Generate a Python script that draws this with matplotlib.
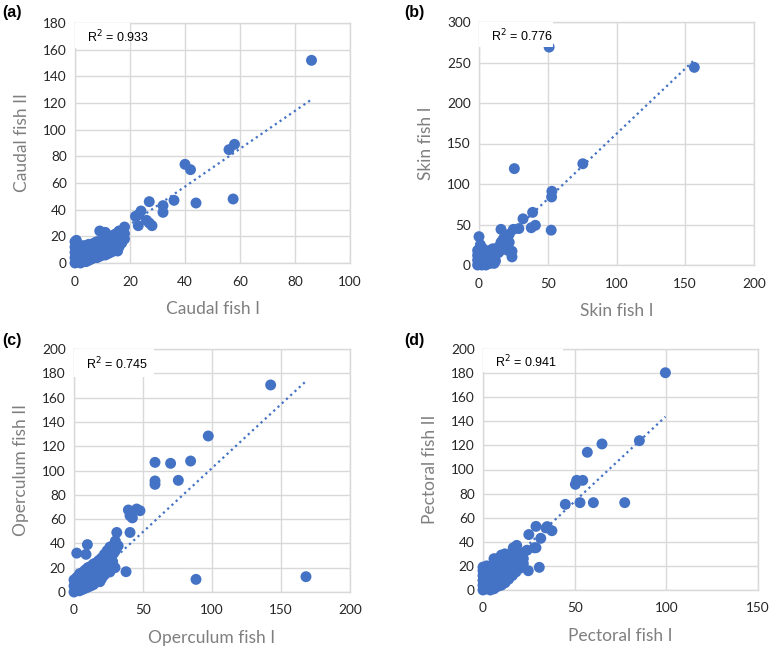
import matplotlib
matplotlib.use("Agg")
import matplotlib.pyplot as plt
from matplotlib.patches import Rectangle

# ---------------- data ----------------
caudal_I = [0, 0, 0, 0, 0, 0.5,
            1, 1, 1, 1,
            2, 2, 2, 2,
            3, 3, 3, 3,
            4, 4, 4, 4,
            5, 5, 5, 5,
            6, 6, 6, 6,
            7, 7, 7, 7,
            8, 8, 8, 8,
            9, 9, 9, 9, 9,
            10, 10, 10, 10,
            11, 11, 11, 11, 11,
            12, 12, 12, 12,
            13, 13, 13, 13,
            14, 14, 14, 14,
            15, 15, 15, 15, 15.5,
            16, 16, 16, 16,
            17, 17, 17,
            18, 18, 18,
            22, 23, 23, 24, 26, 27, 27, 28, 32, 32, 36, 40, 42, 44, 56, 58, 57.5, 86]
caudal_II = [0, 4, 8, 12, 16, 17,
             2, 6, 10, 14,
             0, 4, 8, 12,
             2, 6, 10, 13,
             1, 5, 9, 13,
             2, 6, 10, 14,
             3, 7, 11, 14,
             4, 8, 12, 15,
             4, 8, 12, 16,
             5, 9, 13, 16, 24,
             6, 10, 14, 17,
             6, 10, 14, 18, 23,
             7, 11, 15, 19,
             8, 12, 16, 20,
             9, 13, 17, 21,
             11, 14, 18, 22, 9,
             12, 16, 20, 24,
             15, 19, 23,
             18, 22, 27,
             35, 28, 36, 39, 32, 46, 30, 28, 43, 38, 47, 74, 70, 45, 85, 89, 48, 152]

skin_I = [-1, -1, -1, -1, 0, 1,
          2, 2, 2, 2, 3,
          5, 5, 5, 6,
          8, 8, 8, 8,
          10, 11, 11, 11, 11, 12,
          13, 14, 14, 15,
          16, 16, 16, 17, 18, 18, 19, 20, 20, 21, 22, 22, 24, 24, 25,
          29, 32, 38, 39, 41, 52.5, 52.8, 53, 75.5, 156.6, 25.7, 51]
skin_II = [0, 6, 12, 18, 35, 25,
           0, 5, 10, 15, 20,
           0, 5, 10, 14,
           2, 8, 14, 18,
           20, 2, 8, 15, 19, 5,
           18, 15, 22, 17,
           25, 28, 44, 30, 22, 33, 26, 36, 30, 18, 38, 28, 17, 10, 44,
           45, 57, 46, 65, 49, 43, 84, 91, 125, 244, 119, 269]

operc_I = [0, 0, 0,
           2, 2, 2, 2,
           4, 4, 4, 4,
           6, 6, 6, 6,
           8, 8, 8, 8, 8.7,
           10, 10, 10, 10, 9.7,
           12, 12, 12, 12,
           14, 14, 14, 14,
           16, 16, 16, 16,
           18, 18, 18, 18, 18.8,
           20, 20, 20, 20,
           22, 22, 22, 22,
           24, 24, 24, 24,
           26, 26, 26, 26,
           28, 28, 28,
           30, 30, 31, 32,
           26, 29.7, 37.7, 39.4, 40.6, 40.6, 42.3, 45.4, 47.8,
           58.7, 58.7, 58.7, 70, 75.6, 84.5, 88.4, 97.3, 142.5, 168.1]
operc_II = [0, 5, 10,
            2, 7, 12, 32,
            1, 6, 11, 15,
            2, 7, 12, 16,
            3, 8, 13, 18, 31,
            4, 9, 14, 20, 39,
            5, 10, 15, 21,
            6, 11, 16, 23,
            8, 13, 18, 24,
            10, 14, 20, 26, 8.5,
            11, 16, 22, 28,
            14, 19, 25, 31,
            17, 23, 29, 34,
            21, 27, 33, 37,
            25, 31, 38,
            34, 42, 49, 38,
            16.5, 20, 16.7, 67.5, 62.8, 49, 61, 68.3, 66.9,
            106.7, 91.4, 88.6, 105.9, 91.9, 107.8, 10.4, 128.4, 170.4, 12.6]

pect_I = [0, 0, 0, 0, 0, 0,
          2, 2, 2, 2, 2, 2,
          4, 4, 4, 4, 4, 4,
          6, 6, 6, 6, 6, 6, 6,
          8, 8, 8, 8, 8, 8, 8,
          10, 10, 10, 10, 10, 10, 10,
          12, 12, 12, 12, 12, 12, 12, 12.5,
          14, 14, 14, 14, 14, 14,
          16, 16, 16, 16, 16, 16.5,
          18, 18, 18, 18, 18.4,
          20, 20, 20, 20,
          22, 22, 22,
          24, 24.7, 25, 28, 28.9, 28.9, 30.7, 31.5, 34.4, 35, 37.6,
          44.9, 50.4, 51.1, 52.9, 54.4, 56.9, 60.2, 64.9, 77.3, 85.3, 99.5]
pect_II = [0, 4, 8, 12, 16, 19,
           1, 5, 9, 13, 17, 20,
           0, 4, 8, 12, 16, 20,
           1, 5, 9, 13, 17, 22, 26,
           3, 7, 11, 15, 19, 23, 26,
           4, 8, 12, 16, 20, 24, 29,
           6, 10, 14, 18, 22, 26, 30, 7.5,
           9, 13, 17, 21, 25, 28,
           12, 16, 20, 24, 28, 35,
           15, 19, 23, 27, 37,
           18, 22, 26, 30,
           22, 26, 31,
           33, 16, 46, 35, 35.1, 52.8, 18.8, 42.9, 51.5, 52.6, 49.2,
           71.1, 87.7, 91, 72.5, 91, 114.3, 72.5, 121.2, 72.5, 123.9, 180.3]

# trend line coefficients (slope, intercept)
fit_a = (1.42, 0.5)
fit_b = (1.61, 1.0)
fit_c = (1.05, -3.0)
fit_d = (1.42, 2.5)

r2_texts = ["R$^2$ = 0.933", "R$^2$ = 0.776", "R$^2$ = 0.745", "R$^2$ = 0.941"]
x_labels = ["Caudal fish I", "Skin fish I", "Operculum fish I", "Pectoral fish I"]
y_labels = ["Caudal fish II", "Skin fish I", "Operculum fish II", "Pectoral fish II"]
panel_letters = ["(a)", "(b)", "(c)", "(d)"]
x_ticks = [[0, 20, 40, 60, 80, 100], [0, 50, 100, 150, 200],
           [0, 50, 100, 150, 200], [0, 50, 100, 150]]
y_ticks = [[0, 20, 40, 60, 80, 100, 120, 140, 160, 180], [0, 50, 100, 150, 200, 250, 300],
           [0, 20, 40, 60, 80, 100, 120, 140, 160, 180, 200],
           [0, 20, 40, 60, 80, 100, 120, 140, 160, 180, 200]]

# ---------------- figure ----------------
W, H = 772, 650
fig = plt.figure(figsize=(W / 100, H / 100), dpi=100)

blue = "#4472C4"
grid_c = "#d9d9d9"
tick_font = "Lato"

# axes rectangles in pixels (left, top, right, bottom)
rects = [(75, 23, 350, 263), (479, 22, 754, 265), (74, 349, 350, 592), (483, 349, 758, 590)]
# text box extents in axes fraction (width, height)
boxes = [(0.20, 0.103), (0.27, 0.103), (0.29, 0.117), (0.29, 0.095)]
letter_pos = [(2, 12), (404, 12), (2, 340), (404, 340)]

datasets = [(caudal_I, caudal_II, fit_a), (skin_I, skin_II, fit_b),
            (operc_I, operc_II, fit_c), (pect_I, pect_II, fit_d)]

for i, (xs, ys, fit) in enumerate(datasets):
    l, t, r, b = rects[i]
    ax = fig.add_axes([l / W, 1 - b / H, (r - l) / W, (b - t) / H])
    ax.set_xlim(x_ticks[i][0], x_ticks[i][-1])
    ax.set_ylim(y_ticks[i][0], y_ticks[i][-1])
    ax.set_xticks(x_ticks[i])
    ax.set_yticks(y_ticks[i])
    ax.grid(True, color=grid_c, linewidth=1.0, zorder=0)
    ax.set_axisbelow(True)
    for s in ax.spines.values():
        s.set_color(grid_c)
        s.set_linewidth(1.0)
    ax.tick_params(axis="y", length=0, labelsize=9.8, colors="#262626", pad=6)
    ax.tick_params(axis="x", length=0, labelsize=9.8, colors="#262626", pad=9)
    for lab in ax.get_xticklabels() + ax.get_yticklabels():
        lab.set_fontfamily(tick_font)

    ax.scatter(xs, ys, s=62, color=blue, edgecolors="none", zorder=3, clip_on=False)
    xmin, xmax = min(xs), max(xs)
    ax.plot([xmin, xmax], [fit[0] * xmin + fit[1], fit[0] * xmax + fit[1]],
            linestyle=(0, (1, 1.6)), color=blue, linewidth=1.6, zorder=4)

    bw, bh = boxes[i]
    ax.add_patch(Rectangle((0, 1 - bh), bw, bh, transform=ax.transAxes,
                           facecolor="white", edgecolor="none", zorder=5, clip_on=False))
    ax.text(0.045, 1 - bh / 2 - 0.005, r2_texts[i], transform=ax.transAxes,
            fontsize=9, family="Liberation Sans", va="center", ha="left", zorder=6)

    ax.set_xlabel(x_labels[i], fontsize=12.5, color="#7f7f7f", family=tick_font, labelpad=10)
    ax.set_ylabel(y_labels[i], fontsize=12.5, color="#7f7f7f", family=tick_font, labelpad=9)

    lx, ly = letter_pos[i]
    fig.text(lx / W, 1 - ly / H, panel_letters[i], fontsize=11.5, fontweight="bold",
             family="Liberation Sans", va="center", ha="left")

fig.savefig("out.png", dpi=100)
